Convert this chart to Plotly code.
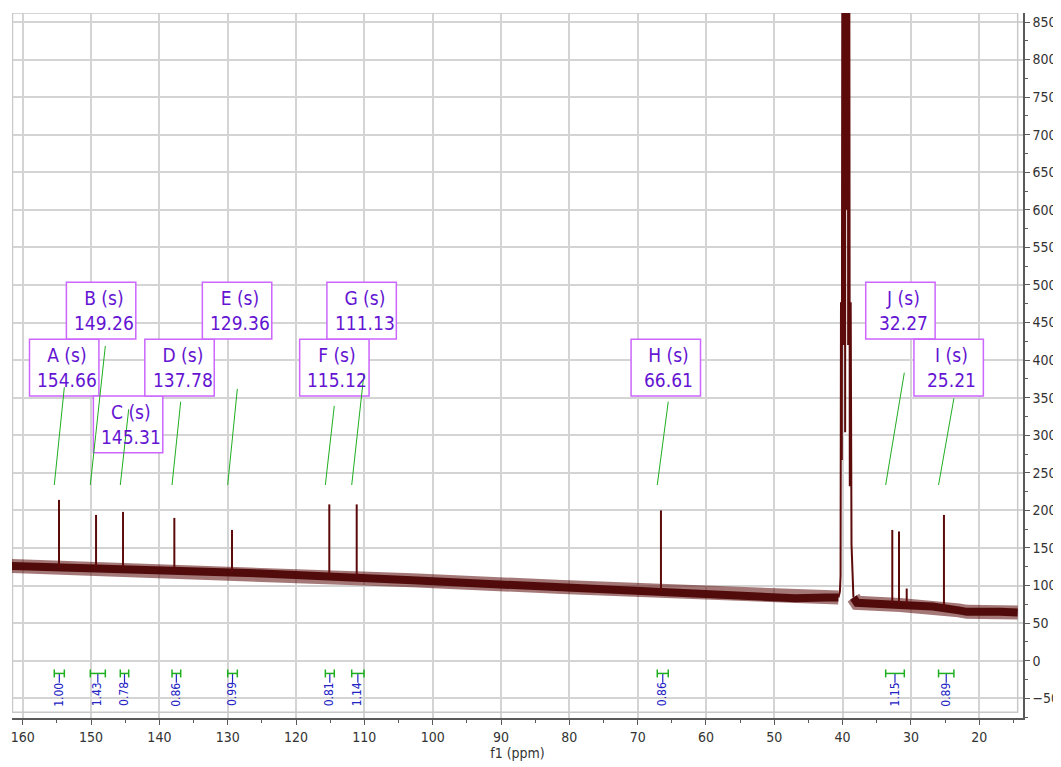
import plotly.graph_objects as go

# centre of the noisy baseline (None = break at the solvent)
base_ppm = [161.6, 144.0, 125.0, 103.0, 81.0, 76.0, 72.0, 67.0, 62.0, 57.0, 52.0, 47.0, 42.3, 40.62,
            None, 38.42, 37.9, 31.6, 26.8, 23.0, 21.8, 17.0, 14.38]
base_int = [126, 121, 116, 107, 98, 96, 94, 92, 90, 87, 85, 83, 84, 84,
            None, 84, 77, 74, 72, 67, 65, 65, 64]

# sharp carbon lines
peak_ppm = [154.69, 149.27, 145.32, 137.81, 129.37, 115.13, 111.12, 66.59, 32.73, 31.75, 30.62, 25.17]
peak_top = [214, 194, 198, 190, 174, 208, 208, 200, 174, 172, 96, 194]
peak_base = [124, 123, 122, 120, 118, 112, 111, 92, 75, 75, 75, 70]

# DMSO-d6 septet (tops run off the chart)
solv_ppm = [40.62, 40.40, 40.30, 40.24, 40.12, 39.99, 39.86, 39.74, 39.63, 39.53, 39.42, 39.32,
            39.19, 39.07, 38.95, 38.82, 38.70, 38.55, 38.42]
solv_int = [84, 92, 113, 477, 267, 1400, 420, 2800, 304, 3300, 600, 2800,
            420, 1400, 232, 477, 155, 100, 84]

# peak labels
label_name = ["A", "B", "C", "D", "E", "F", "G", "H", "J", "I"]
label_ppm = [154.66, 149.26, 145.31, 137.78, 129.36, 115.12, 111.13, 66.61, 32.27, 25.21]
label_row = [2, 1, 3, 2, 1, 2, 1, 2, 1, 2]
leader_top = [363.9, 418.8, 334.6, 344.7, 361.6, 339.0, 382.5, 344.7, 383.3, 349.2]

# integrals
int_lo = [155.38, 150.11, 145.72, 138.15, 130.00, 115.71, 111.85, 67.13, 33.70, 25.96]
int_hi = [153.91, 147.91, 144.49, 136.88, 128.59, 114.40, 110.05, 65.52, 30.97, 23.71]
int_val = ["1.00", "1.43", "0.78", "0.86", "0.99", "0.81", "1.14", "0.86", "1.15", "0.89"]

SPEC = "#5c0a0a"
BOX_LINE = "#cc66ff"
BOX_TEXT = "#6414d2"
GREEN = "#1fae1f"
BLUE = "#2323c4"
GRID = "#d4d4d4"
AXIS = "#5a5a5a"
FONT = "DejaVu Sans Condensed, DejaVu Sans, sans-serif"

X_RANGE = [161.57, 13.60]
Y_RANGE = [-76.3, 862.0]
BOX_W = 10.16
BOX_H = 75.5
BOX_SHIFT = 0.73
ROW_TOP = {1: 503.6, 2: 427.9, 3: 352.3}
LEADER_LOW = 233.8
BRACKET_Y = -17.0
CAP = 5.3

fig = go.Figure()

# noise band: faint halo + dense core
fig.add_trace(go.Scatter(x=base_ppm, y=base_int, mode="lines", opacity=0.55,
                         line=dict(color=SPEC, width=14), hoverinfo="skip"))
fig.add_trace(go.Scatter(x=base_ppm, y=base_int, mode="lines", opacity=0.95,
                         line=dict(color="#4e0606", width=8), hoverinfo="skip"))

px_, py_ = [], []
for p, t, b in zip(peak_ppm, peak_top, peak_base):
    px_ += [p, p, None]
    py_ += [b, t, None]
fig.add_trace(go.Scatter(x=px_, y=py_, mode="lines", line=dict(color=SPEC, width=2)))
fig.add_trace(go.Scatter(x=solv_ppm, y=solv_int, mode="lines", line=dict(color=SPEC, width=2)))

shapes = []
# plot frame
shapes.append(dict(type="rect", xref="x", yref="y", x0=161.5, x1=14.38, y0=-68.7, y1=Y_RANGE[1],
                   line=dict(color="#c8c8c8", width=1.5), layer="between"))

annotations = []
for name, lp, row in zip(label_name, label_ppm, label_row):
    cx = lp - BOX_SHIFT
    top = ROW_TOP[row]
    shapes.append(dict(type="rect", xref="x", yref="y", x0=cx + BOX_W / 2, x1=cx - BOX_W / 2,
                       y0=top - BOX_H, y1=top, fillcolor="white",
                       line=dict(color=BOX_LINE, width=1.5), layer="between"))
    annotations.append(dict(x=cx, y=top - BOX_H / 2, xref="x", yref="y", xshift=3,
                            text=f"{name} (s)<br>{lp:.2f}", showarrow=False,
                            font=dict(family=FONT, size=19, color=BOX_TEXT)))

# leader lines
lx, ly = [], []
for lo, hi, top in zip(int_lo, int_hi, leader_top):
    lx += [lo, hi, None]
    ly += [LEADER_LOW, top, None]
fig.add_trace(go.Scatter(x=lx, y=ly, mode="lines", line=dict(color=GREEN, width=1)))

# integral brackets
gx, gy, bx, by = [], [], [], []
for lo, hi, v in zip(int_lo, int_hi, int_val):
    gx += [lo, hi, None, lo, lo, None, hi, hi, None]
    gy += [BRACKET_Y, BRACKET_Y, None, BRACKET_Y - CAP, BRACKET_Y + CAP, None,
           BRACKET_Y - CAP, BRACKET_Y + CAP, None]
    c = (lo + hi) / 2
    bx += [c, c, None]
    by += [BRACKET_Y, -29.5, None]
    annotations.append(dict(x=c, y=-45, xref="x", yref="y", text=v, textangle=-90,
                            showarrow=False, font=dict(family=FONT, size=12, color=BLUE)))
fig.add_trace(go.Scatter(x=bx, y=by, mode="lines", line=dict(color=BLUE, width=1.2)))
fig.add_trace(go.Scatter(x=gx, y=gy, mode="lines", line=dict(color=GREEN, width=1.5)))

# the page body has an 8px margin, so the figure is trimmed by 8px to fit the window
fig.update_layout(
    width=1053, height=759,
    margin=dict(l=4, r=38, t=5, b=49),
    plot_bgcolor="white", paper_bgcolor="white",
    showlegend=False, hovermode=False,
    shapes=shapes, annotations=annotations,
    font=dict(family=FONT, size=14, color="#333333"),
)
fig.update_xaxes(
    range=X_RANGE, tickmode="linear", tick0=0, dtick=10, automargin=False,
    showgrid=True, gridcolor=GRID, gridwidth=1.5, zeroline=False,
    showline=True, linecolor=AXIS, linewidth=1.5,
    ticks="outside", ticklen=5, tickcolor=AXIS, tickwidth=1.2,
    minor=dict(dtick=5, tick0=0, ticks="outside", ticklen=3, tickcolor=AXIS, showgrid=False),
    tickfont=dict(family=FONT, size=14, color="#333333"),
    title=dict(text="f1 (ppm)", font=dict(family=FONT, size=14, color="#333333"), standoff=4),
)
fig.update_yaxes(
    range=Y_RANGE, side="right", tickmode="linear", tick0=0, dtick=50, automargin=False,
    showgrid=True, gridcolor=GRID, gridwidth=1.5, zeroline=False,
    showline=True, linecolor=AXIS, linewidth=1.5,
    ticks="outside", ticklen=5, tickcolor=AXIS, tickwidth=1.2,
    minor=dict(dtick=25, tick0=0, ticks="outside", ticklen=3, tickcolor=AXIS, showgrid=False),
    tickfont=dict(family=FONT, size=14, color="#333333"),
)

fig.write_html("out.html")
